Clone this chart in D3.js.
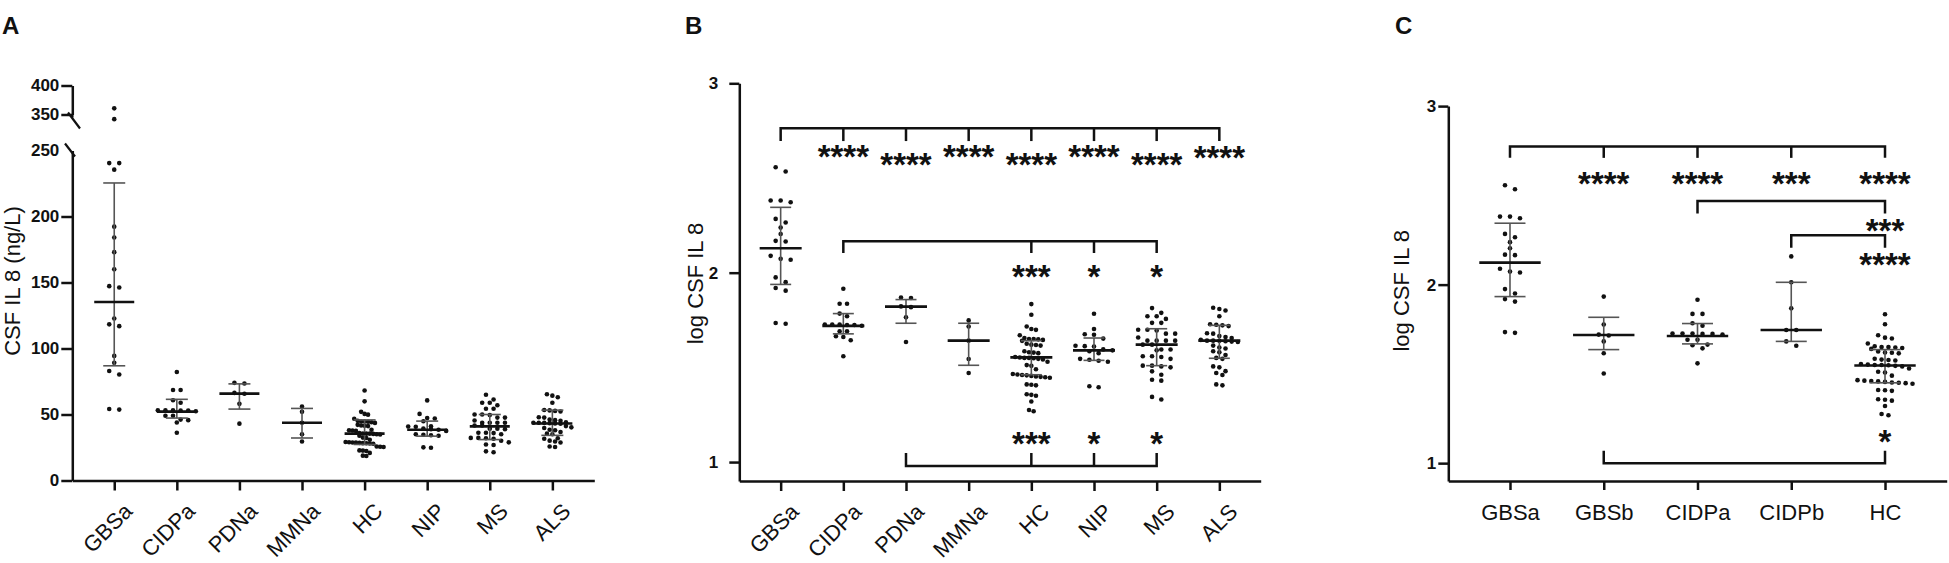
<!DOCTYPE html>
<head>
  <meta charset="utf-8">
  <script src="https://d3js.org/d3.v7.min.js"></script>
  <style>
    body { margin:0; background:#fff; }
    svg { display:block; }
    .axis path, .axis line { stroke:#111; stroke-width:2.5px; fill:none; }
    .axis text { font: bold 17px 'Liberation Sans', Arial, sans-serif; fill:#111; }
  </style>
</head>
<body>
<svg id="chart"></svg>
<script>
  var W = 1949, H = 563;
  var FONT = "'Liberation Sans', Arial, Helvetica, sans-serif";

  // categories
  var groupsAB = ["GBSa", "CIDPa", "PDNa", "MMNa", "HC", "NIP", "MS", "ALS"];
  var groupsC = ["GBSa", "GBSb", "CIDPa", "CIDPb", "HC"];

  var logGBSa = [2.557, 2.534, 2.381, 2.381, 2.372, 2.284, 2.265, 2.238, 2.204, 2.168, 2.165, 2.089, 2.073, 2.068, 1.975, 1.950, 1.919, 1.905, 1.734, 1.730];
  var logCIDPa = [1.915, 1.836, 1.836, 1.784, 1.770, 1.726, 1.726, 1.724, 1.720, 1.726, 1.724, 1.691, 1.691, 1.664, 1.660, 1.643, 1.559];
  var logPDNa = [1.869, 1.866, 1.822, 1.818, 1.764, 1.634];
  var logMMNa = [1.748, 1.716, 1.641, 1.544, 1.470];
  var logHC = [1.834, 1.778, 1.716, 1.703, 1.698, 1.670, 1.655, 1.650, 1.650, 1.648, 1.645, 1.640, 1.625, 1.620, 1.618, 1.615, 1.585, 1.580, 1.578, 1.575, 1.555, 1.552, 1.550, 1.550, 1.548, 1.545, 1.542, 1.530, 1.512, 1.508, 1.490, 1.465, 1.462, 1.460, 1.458, 1.455, 1.452, 1.450, 1.448, 1.445, 1.410, 1.408, 1.405, 1.358, 1.355, 1.350, 1.320, 1.275, 1.268];
  var logNIP = [1.783, 1.703, 1.675, 1.672, 1.652, 1.614, 1.612, 1.610, 1.595, 1.590, 1.585, 1.575, 1.545, 1.540, 1.535, 1.530, 1.400, 1.395];
  var logMS = [1.813, 1.788, 1.770, 1.770, 1.756, 1.735, 1.735, 1.699, 1.699, 1.695, 1.678, 1.678, 1.658, 1.641, 1.641, 1.641, 1.641, 1.620, 1.620, 1.594, 1.594, 1.590, 1.559, 1.559, 1.555, 1.545, 1.509, 1.509, 1.505, 1.500, 1.479, 1.461, 1.435, 1.430, 1.344, 1.330];
  var logALS = [1.815, 1.808, 1.800, 1.770, 1.728, 1.725, 1.722, 1.718, 1.680, 1.678, 1.665, 1.660, 1.655, 1.645, 1.641, 1.641, 1.640, 1.638, 1.636, 1.634, 1.615, 1.605, 1.600, 1.585, 1.580, 1.565, 1.550, 1.545, 1.505, 1.500, 1.480, 1.470, 1.460, 1.410, 1.405];
  var logGBSb = [1.933, 1.777, 1.720, 1.715, 1.682, 1.616, 1.502];
  var logCIDPb = [2.158, 2.013, 1.867, 1.746, 1.746, 1.682, 1.658];

  // median and interquartile bars as drawn
  var medA = [135.2, 52.2, 65.8, 43.7, 35.5, 38.5, 41.0, 43.2];
  var q1A  = [86.9, 47.3, 54.1, 32.2, 27.3, 33.6, 31.0, 34.2];
  var q3A  = [225.4, 61.5, 73.2, 54.6, 45.9, 45.0, 50.0, 53.3];
  var medB = [2.129, 1.719, 1.821, 1.641, 1.553, 1.590, 1.620, 1.641];
  var q1B  = [1.938, 1.677, 1.733, 1.511, 1.461, 1.537, 1.509, 1.548];
  var q3B  = [2.345, 1.784, 1.858, 1.733, 1.641, 1.655, 1.704, 1.722];
  var medC = [2.123, 1.718, 1.712, 1.746, 1.547];
  var q1C  = [1.933, 1.636, 1.668, 1.682, 1.450];
  var q3C  = [2.344, 1.817, 1.782, 2.013, 1.636];

  // significance brackets: line level, leg end, and star labels (log units)
  var sigB = [
    {from: "GBSa", to: "ALS", at: 2.763, leg: 2.695,
     marks: [["CIDPa", "****", 2.648], ["PDNa", "****", 2.606], ["MMNa", "****", 2.648], ["HC", "****", 2.606],
             ["NIP", "****", 2.648], ["MS", "****", 2.606], ["ALS", "****", 2.640]]},
    {from: "CIDPa", to: "MS", at: 2.166, leg: 2.104,
     marks: [["HC", "***", 2.014], ["NIP", "*", 2.014], ["MS", "*", 2.014]]},
    {from: "PDNa", to: "MS", at: 0.979, leg: 1.048,
     marks: [["HC", "***", 1.132], ["NIP", "*", 1.132], ["MS", "*", 1.132]]}
  ];
  var sigC = [
    {from: "GBSa", to: "HC", at: 2.774, leg: 2.710,
     marks: [["GBSb", "****", 2.605], ["CIDPa", "****", 2.605], ["CIDPb", "***", 2.605], ["HC", "****", 2.605]]},
    {from: "CIDPa", to: "HC", at: 2.469, leg: 2.398, marks: [["HC", "***", 2.338]]},
    {from: "CIDPb", to: "HC", at: 2.277, leg: 2.206, marks: [["HC", "****", 2.150]]},
    {from: "GBSb", to: "HC", at: 1.000, leg: 1.070, marks: [["HC", "*", 1.155]]}
  ];

  var valuesB = [logGBSa, logCIDPa, logPDNa, logMMNa, logHC, logNIP, logMS, logALS];
  var valuesC = [logGBSa, logGBSb, logCIDPa, logCIDPb, logHC];
  // panel A is the same data on the original ng/L scale
  var valuesA = valuesB.map(function(arr) { return arr.map(function(v) { return Math.pow(10, v); }); });

  var svg = d3.select("#chart").attr("width", W).attr("height", H);
  svg.append("rect").attr("width", W).attr("height", H).attr("fill", "#fff");

  var base = 481;

  // place dots of a column side by side in rows (GraphPad style scatter)
  function swarm(ys, maxWidth) {
    var idx = ys.map(function(d, i) { return i; }).sort(function(a, b) { return ys[a] - ys[b]; });
    var rows = [], cur = null;
    idx.forEach(function(i) {
      if (!cur || ys[i] - ys[cur[0]] > 5) { cur = [i]; rows.push(cur); }
      else cur.push(i);
    });
    var maxRow = d3.max(rows, function(r) { return r.length; });
    var sp = maxRow > 1 ? Math.min(10, maxWidth / (maxRow - 1)) : 0;
    var off = [];
    rows.forEach(function(r) {
      r.forEach(function(i, k) { off[i] = (k - (r.length - 1) / 2) * sp; });
    });
    return off;
  }

  function drawColumns(g, x, y, groups, values, med, q1, q3, opt) {
    groups.forEach(function(name, gi) {
      var cx = x(name);
      var ys = values[gi].map(y);
      var off = swarm(ys, opt.spread);
      g.append("g").selectAll("circle").data(values[gi]).join("circle")
        .attr("cx", function(d, i) { return cx + off[i]; })
        .attr("cy", function(d, i) { return ys[i]; })
        .attr("r", 2.3)
        .attr("fill", "#111");
      var col = g.append("g");
      col.append("line").attr("x1", cx).attr("x2", cx).attr("y1", y(q1[gi])).attr("y2", y(q3[gi]))
        .attr("stroke", "#555").attr("stroke-width", 1.6);
      [q1[gi], q3[gi]].forEach(function(v) {
        col.append("line").attr("x1", cx - opt.cap).attr("x2", cx + opt.cap).attr("y1", y(v)).attr("y2", y(v))
          .attr("stroke", "#555").attr("stroke-width", 1.6);
      });
      col.append("line").attr("x1", cx - opt.med).attr("x2", cx + opt.med).attr("y1", y(med[gi])).attr("y2", y(med[gi]))
        .attr("stroke", "#111").attr("stroke-width", 2.6);
    });
  }

  function drawSig(g, x, y, sig) {
    sig.forEach(function(s) {
      var x0 = x(s.from), x1 = x(s.to), yl = y(s.at), yg = y(s.leg);
      g.append("path")
        .attr("d", "M" + x0 + "," + yg + "V" + yl + "H" + x1 + "V" + yg)
        .attr("fill", "none").attr("stroke", "#111").attr("stroke-width", 2.5);
      s.marks.forEach(function(m) {
        if (m[0] !== s.to) {
          g.append("line").attr("x1", x(m[0])).attr("x2", x(m[0])).attr("y1", yl).attr("y2", yg)
            .attr("stroke", "#111").attr("stroke-width", 2.5);
        }
        g.append("text")
          .attr("x", x(m[0])).attr("y", y(m[2]) + 18)
          .attr("text-anchor", "middle")
          .style("font", "bold 33px " + FONT).attr("fill", "#111")
          .text(m[1]);
      });
    });
  }

  function label(text, x, y, rot, size, weight) {
    svg.append("text")
      .attr("transform", "translate(" + x + "," + y + ")" + (rot ? " rotate(" + rot + ")" : ""))
      .attr("text-anchor", rot ? "middle" : "start")
      .style("font", (weight || "normal") + " " + size + "px " + FONT)
      .attr("fill", "#111")
      .text(text);
  }

  function rotateLabels(a) {
    a.selectAll("text")
      .attr("transform", "translate(5,18) rotate(-45)")
      .attr("text-anchor", "end").attr("y", 0).attr("dy", "0.9em").attr("x", 0)
      .style("font", "normal 22px " + FONT);
  }

  // ---------- panel A ----------
  var xA = d3.scalePoint().domain(groupsAB).range([72.3, 594.3]).padding(0.67);
  var yLow = d3.scaleLinear().domain([0, 250]).range([480.5, 150.5]);
  var yUp = d3.scaleLinear().domain([350, 400]).range([114.5, 85.5]);
  var yA = function(v) { return v > 300 ? yUp(v) : yLow(v); };
  var gA = svg.append("g");

  gA.append("g").attr("class", "axis").attr("transform", "translate(72.3,0)")
    .call(d3.axisLeft(yLow).tickValues([0, 50, 100, 150, 200, 250]).tickFormat(d3.format("d"))
      .tickSize(11).tickPadding(2).tickSizeOuter(0))
    .call(function(a) { a.selectAll(".tick").filter(function(d) { return d === 250; }).select("line").remove(); });
  gA.append("g").attr("class", "axis").attr("transform", "translate(72.3,0)")
    .call(d3.axisLeft(yUp).tickValues([350, 400]).tickFormat(d3.format("d"))
      .tickSize(11).tickPadding(2).tickSizeOuter(0));
  gA.append("line").attr("x1", 72.3).attr("x2", 72.3).attr("y1", yUp(350)).attr("y2", yUp(350) + 3)
    .attr("stroke", "#111").attr("stroke-width", 2.5);
  gA.append("line").attr("x1", 68).attr("x2", 80).attr("y1", yUp(350) - 2).attr("y2", yUp(350) + 14)
    .attr("stroke", "#111").attr("stroke-width", 2.2);
  gA.append("line").attr("x1", 65).attr("x2", 75).attr("y1", yLow(250) - 7).attr("y2", yLow(250) + 6)
    .attr("stroke", "#111").attr("stroke-width", 2.2);

  gA.append("g").attr("class", "axis").attr("transform", "translate(0," + yLow(0) + ")")
    .call(d3.axisBottom(xA).tickSize(10).tickSizeOuter(0))
    .call(rotateLabels);
  drawColumns(gA, xA, yA, groupsAB, valuesA, medA, q1A, q3A, {spread: 38, cap: 11, med: 20});
  label("CSF IL 8 (ng/L)", 19.5, 281, -90, 22);
  label("A", 2, 34, 0, 24, "bold");

  // ---------- panel B ----------
  var xB = d3.scalePoint().domain(groupsAB).range([739.3, 1260.7]).padding(0.66);
  var yB = d3.scaleLinear().domain([0.9, 3]).range([base, 83.3]);
  var gB = svg.append("g");
  gB.append("g").attr("class", "axis").attr("transform", "translate(739.3,0)")
    .call(d3.axisLeft(yB).tickValues([1, 2, 3]).tickFormat(d3.format("d"))
      .tickSize(10).tickPadding(11).tickSizeOuter(0));
  gB.append("g").attr("class", "axis").attr("transform", "translate(0," + base + ")")
    .call(d3.axisBottom(xB).tickSize(10).tickSizeOuter(0))
    .call(rotateLabels);
  drawColumns(gB, xB, yB, groupsAB, valuesB, medB, q1B, q3B, {spread: 37, cap: 10.5, med: 21});
  drawSig(gB, xB, yB, sigB);
  label("log CSF IL 8", 702.5, 283.6, -90, 22);
  label("B", 685, 34, 0, 24, "bold");

  // ---------- panel C ----------
  var xC = d3.scalePoint().domain(groupsC).range([1448.3, 1946.7]).padding(0.658);
  var yC = d3.scaleLinear().domain([0.9, 3]).range([base, 106.1]);
  var gC = svg.append("g");
  gC.append("g").attr("class", "axis").attr("transform", "translate(1448.3,0)")
    .call(d3.axisLeft(yC).tickValues([1, 2, 3]).tickFormat(d3.format("d"))
      .tickSize(10).tickPadding(2).tickSizeOuter(0));
  gC.append("g").attr("class", "axis").attr("transform", "translate(0," + base + ")")
    .call(d3.axisBottom(xC).tickSize(9).tickSizeOuter(0))
    .call(function(a) {
      a.selectAll("text").attr("y", 38.5).attr("dy", 0)
        .style("font", "normal 22px " + FONT);
    });
  drawColumns(gC, xC, yC, groupsC, valuesC, medC, q1C, q3C, {spread: 55, cap: 15.5, med: 30.7});
  drawSig(gC, xC, yC, sigC);
  label("log CSF IL 8", 1409, 290.8, -90, 22);
  label("C", 1395, 34, 0, 24, "bold");
</script>
</body>
